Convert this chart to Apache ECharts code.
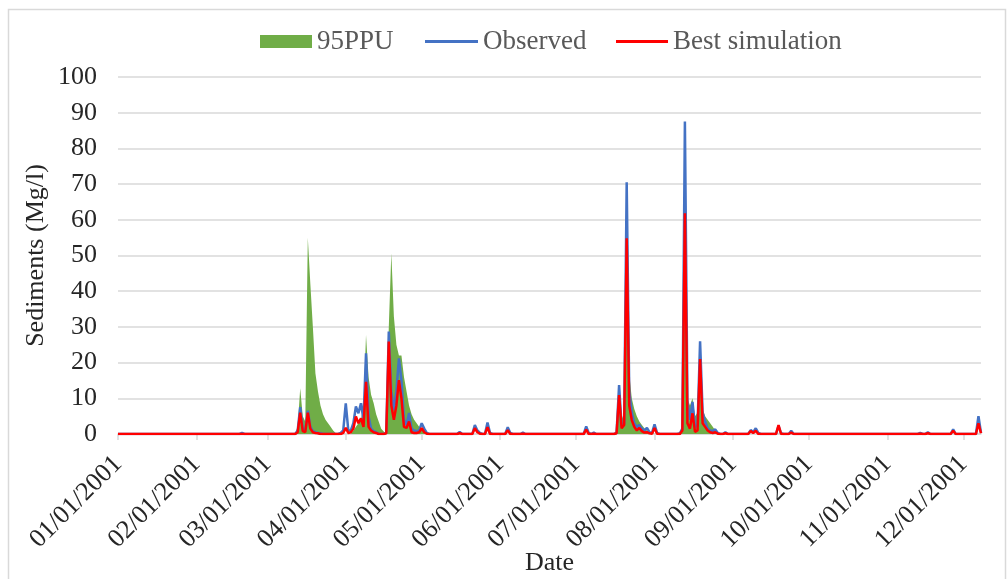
<!DOCTYPE html>
<html>
<head>
<meta charset="utf-8">
<script src="https://cdn.jsdelivr.net/npm/echarts/dist/echarts.min.js"></script>
<style>
html,body{margin:0;padding:0;background:#fff;}
#chart{width:1008px;height:579px;}
</style>
</head>
<body>
<div id="chart"></div>
<script>
// ---- Data ----
const YEAR = 2001;
const FIRST_DATE = [1, 1];   // month, day
const LAST_DATE = [12, 8];
const yTicks = [0, 10, 20, 30, 40, 50, 60, 70, 80, 90, 100];
const seriesNames = ['95PPU', 'Observed', 'Best simulation'];

// days not listed are 0
const observed = [
  ['02/19',0.3],
  ['03/13',1],['03/14',7.5],['03/15',1.5],['03/16',1],['03/17',6.5],['03/18',2],['03/19',0.8],['03/20',0.5],['03/21',0.3],['03/22',0.2],
  ['03/30',0.3],['03/31',1],['04/01',8.6],['04/02',1],['04/03',1],['04/04',3],['04/05',7.7],['04/06',5.8],['04/07',8.6],['04/08',4],
  ['04/09',22.6],['04/10',5],['04/11',1.5],['04/12',0.8],['04/13',0.5],
  ['04/17',0.3],['04/18',28.7],['04/19',12],['04/20',6.7],['04/21',12],['04/22',21.2],['04/23',15],['04/24',4],['04/25',2.5],['04/26',5.9],
  ['04/27',1.5],['04/28',1],['04/29',0.8],['04/30',1],['05/01',3],['05/02',1.5],['05/03',0.3],
  ['05/16',0.6],['05/22',2.5],['05/23',1],['05/24',0.3],['05/27',3.2],['05/28',0.3],
  ['06/04',1.9],['06/05',0.3],['06/10',0.4],
  ['07/05',2.1],['07/06',0.3],['07/08',0.4],
  ['07/17',0.3],['07/18',13.7],['07/19',2],['07/20',3],['07/21',70.5],['07/22',12],['07/23',6],['07/24',3],['07/25',2],['07/26',2.5],
  ['07/27',1.5],['07/28',1],['07/29',1.7],['07/30',0.5],['07/31',0.3],['08/01',2.7],['08/02',0.3],
  ['08/11',0.2],['08/12',1.5],['08/13',87.5],['08/14',9],['08/15',4],['08/16',9],['08/17',2],['08/18',2.5],['08/19',26],['08/20',6],
  ['08/21',3.5],['08/22',1.5],['08/23',1],['08/24',0.8],['08/25',1.3],['08/26',0.3],['08/29',0.5],
  ['09/08',1.1],['09/09',0.5],['09/10',1.6],['09/11',0.3],['09/19',2.3],['09/20',0.2],['09/24',0.9],
  ['11/14',0.3],['11/17',0.5],['11/27',1.3],['12/07',5],['12/08',0.3]
];

const bestSimulation = [
  ['03/13',0.5],['03/14',6],['03/15',0.8],['03/16',0.5],['03/17',6],['03/18',1.5],['03/19',0.5],['03/20',0.3],['03/21',0.2],
  ['03/31',0.3],['04/01',1.7],['04/02',0.3],['04/03',0.5],['04/04',1.5],['04/05',4.9],['04/06',3],['04/07',4.4],['04/08',2],
  ['04/09',14.6],['04/10',2],['04/11',1],['04/12',0.5],['04/13',0.3],
  ['04/17',0.2],['04/18',25.9],['04/19',8],['04/20',4],['04/21',8],['04/22',15.1],['04/23',10],['04/24',2],['04/25',1.7],['04/26',3.5],
  ['04/27',0.5],['04/28',0.3],['04/29',0.3],['04/30',0.5],['05/01',1.6],['05/02',0.5],['05/03',0.1],
  ['05/16',0.2],['05/22',1.6],['05/23',0.5],['05/24',0.1],['05/27',1.9],
  ['06/04',1.1],['06/10',0.1],
  ['07/05',1.2],['07/08',0.1],
  ['07/17',0.2],['07/18',10.9],['07/19',1.6],['07/20',2.5],['07/21',54.8],['07/22',8],['07/23',3.9],['07/24',2],['07/25',1],['07/26',1.7],
  ['07/27',0.8],['07/28',0.4],['07/29',0.5],['07/30',0.2],['07/31',0.1],['08/01',1.7],['08/02',0.1],
  ['08/12',1],['08/13',61.8],['08/14',3],['08/15',1.5],['08/16',5.8],['08/17',0.6],['08/18',1],['08/19',21],['08/20',3],
  ['08/21',2],['08/22',1],['08/23',0.5],['08/24',0.3],['08/25',0.5],['08/26',0.1],['08/29',0.2],
  ['09/08',0.8],['09/09',0.3],['09/10',0.9],['09/19',2.5],['09/24',0.4],
  ['11/14',0.1],['11/17',0.2],['11/27',0.9],['12/07',3],['12/08',0.2]
];

// upper limit of the 95PPU band (lower limit ~0)
const ppu95Upper = [
  ['03/13',2],['03/14',12.8],['03/15',5],['03/16',3.5],['03/17',55],['03/18',42],['03/19',30],['03/20',17],['03/21',12],['03/22',8],
  ['03/23',5.5],['03/24',4],['03/25',3],['03/26',2],['03/27',1],['03/28',0.3],
  ['04/04',1],['04/05',2],['04/06',3],['04/07',4],['04/08',8],['04/09',27.7],['04/10',16],['04/11',11],['04/12',8.7],['04/13',5.5],
  ['04/14',3.5],['04/15',1.5],['04/16',0.7],
  ['04/18',30],['04/19',50.6],['04/20',33],['04/21',25],['04/22',22],['04/23',22],['04/24',16],['04/25',12],['04/26',8],['04/27',5.5],
  ['04/28',4],['04/29',3],['04/30',2],['05/01',1.5],['05/02',0.5],['05/03',0.2],
  ['07/18',12],['07/19',4],['07/20',6],['07/21',55],['07/22',17],['07/23',10],['07/24',7],['07/25',5],['07/26',3.5],['07/27',2.5],
  ['07/28',1.6],['07/29',1],['07/30',0.5],['07/31',0.2],
  ['08/12',1],['08/13',55],['08/14',10],['08/15',8],['08/16',10],['08/17',5],['08/18',6],['08/19',18],['08/20',7],['08/21',5],
  ['08/22',4],['08/23',3],['08/24',2],['08/25',1],['08/26',0.3]
];

// ---- Build daily categories and series ----
function pad(n){ return n < 10 ? '0' + n : '' + n; }
const categories = [];
(function(){
  const d = new Date(Date.UTC(YEAR, FIRST_DATE[0]-1, FIRST_DATE[1]));
  const end = Date.UTC(YEAR, LAST_DATE[0]-1, LAST_DATE[1]);
  while (d.getTime() <= end) {
    categories.push(pad(d.getUTCMonth()+1) + '/' + pad(d.getUTCDate()) + '/' + YEAR);
    d.setUTCDate(d.getUTCDate()+1);
  }
})();
function toDaily(list){
  const m = {};
  list.forEach(function(p){ m[p[0] + '/' + YEAR] = p[1]; });
  return categories.map(function(c){ return m[c] !== undefined ? m[c] : 0; });
}
const isMonthStart = function(idx, val){ return val.slice(3,5) === '01'; };

const FONT = 'Liberation Serif';
const AXIS_FS = 26;
const LEGEND_FS = 27;
const legendText = {fontFamily: FONT, fontSize: LEGEND_FS, color: '#595959'};

const chart = echarts.init(document.getElementById('chart'), null, {renderer:'canvas'});
chart.setOption({
  animation: false,
  backgroundColor: '#ffffff',
  graphic: [{
    type: 'rect', left: 6, top: 7, shape: {width: 997, height: 580},
    style: {fill: 'none', stroke: '#d9d9d9', lineWidth: 1.5}, silent: true, z: -1
  }],
  legend: [
    {left: 260, top: 28, padding: 0, itemWidth: 52, itemHeight: 13, selectedMode: false, textStyle: legendText,
     data: [{name: seriesNames[0], icon: 'rect'}]},
    {left: 425, top: 28, padding: 0, itemWidth: 53, itemHeight: 3, selectedMode: false, textStyle: legendText,
     data: [{name: seriesNames[1], icon: 'rect'}]},
    {left: 616, top: 28, padding: 0, itemWidth: 52, itemHeight: 3, selectedMode: false, textStyle: legendText,
     data: [{name: seriesNames[2], icon: 'rect'}]}
  ],
  grid: {left: 118, right: 27, top: 77, bottom: 145, containLabel: false, outerBoundsMode: 'none'},
  xAxis: {
    type: 'category',
    data: categories,
    boundaryGap: false,
    name: 'Date',
    nameLocation: 'middle',
    nameGap: 116,
    nameMoveOverlap: false,
    nameTextStyle: {fontFamily: FONT, fontSize: AXIS_FS, color: '#262626'},
    axisLine: {lineStyle: {color: '#d9d9d9', width: 1.5}},
    axisTick: {show: true, interval: isMonthStart, length: 6, lineStyle: {color: '#d9d9d9', width: 1.5}},
    axisLabel: {interval: isMonthStart, rotate: 45, margin: 26, fontFamily: FONT, fontSize: AXIS_FS, color: '#262626'},
    splitLine: {show: false}
  },
  yAxis: {
    type: 'value',
    min: yTicks[0], max: yTicks[yTicks.length-1], interval: yTicks[1]-yTicks[0],
    name: 'Sediments (Mg/l)',
    nameLocation: 'middle',
    nameGap: 69,
    nameMoveOverlap: false,
    nameTextStyle: {fontFamily: FONT, fontSize: AXIS_FS, color: '#262626'},
    axisLine: {show: false},
    axisTick: {show: false},
    axisLabel: {margin: 21, fontFamily: FONT, fontSize: AXIS_FS, color: '#262626'},
    splitLine: {lineStyle: {color: '#d9d9d9', width: 1.5}}
  },
  series: [
    {
      name: seriesNames[0], type: 'line', data: toDaily(ppu95Upper),
      showSymbol: false, symbol: 'none',
      lineStyle: {width: 0, color: '#70AD47'},
      itemStyle: {color: '#70AD47'},
      areaStyle: {color: '#70AD47', opacity: 1},
      z: 1
    },
    {
      name: seriesNames[1], type: 'line', data: toDaily(observed),
      showSymbol: false, symbol: 'none',
      lineStyle: {width: 2.5, color: '#4472C4'},
      itemStyle: {color: '#4472C4'},
      z: 2
    },
    {
      name: seriesNames[2], type: 'line', data: toDaily(bestSimulation),
      showSymbol: false, symbol: 'none',
      lineStyle: {width: 2.5, color: '#FF0000'},
      itemStyle: {color: '#FF0000'},
      z: 3
    }
  ]
});
</script>
</body>
</html>
